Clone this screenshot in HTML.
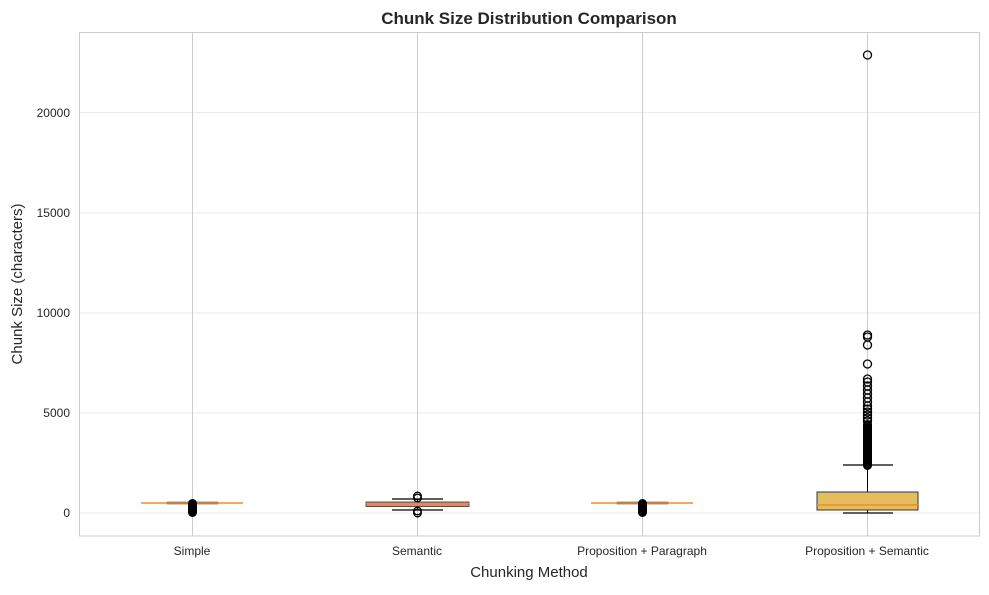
<!DOCTYPE html>
<html><head><style>body{margin:0;background:#fff}svg text{font-family:"Liberation Sans",Arial,sans-serif}</style></head><body>
<svg width="989" height="590" xmlns="http://www.w3.org/2000/svg">
<rect width="989" height="590" fill="#fff"/>
<g stroke="#ebebeb" stroke-width="1">
<line x1="80" x2="980" y1="513" y2="513"/><line x1="80" x2="980" y1="413" y2="413"/><line x1="80" x2="980" y1="313" y2="313"/><line x1="80" x2="980" y1="213" y2="213"/><line x1="80" x2="980" y1="112.5" y2="112.5"/>
</g>
<g stroke="#cccccc" stroke-width="1">
<line x1="192.5" x2="192.5" y1="32" y2="536"/><line x1="417.5" x2="417.5" y1="32" y2="536"/><line x1="642.5" x2="642.5" y1="32" y2="536"/><line x1="867.5" x2="867.5" y1="32" y2="536"/>
</g>
<rect x="79.5" y="32.5" width="900" height="503.5" fill="none" stroke="#cccccc"/>
<g font-size="12" fill="#262626" text-anchor="end">
<text x="70" y="517">0</text><text x="70" y="417">5000</text><text x="70" y="317">10000</text><text x="70" y="217">15000</text><text x="70" y="117">20000</text>
</g>
<g font-size="12" fill="#262626" text-anchor="middle">
<text x="192" y="555">Simple</text><text x="417" y="555">Semantic</text><text x="642" y="555">Proposition + Paragraph</text><text x="867" y="555">Proposition + Semantic</text>
</g>
<text x="529" y="577" font-size="15" fill="#262626" text-anchor="middle">Chunking Method</text>
<text transform="translate(22,284) rotate(-90)" font-size="15" fill="#262626" text-anchor="middle">Chunk Size (characters)</text>
<text x="529" y="24" font-size="17" font-weight="bold" fill="#262626" text-anchor="middle">Chunk Size Distribution Comparison</text>
<!-- Simple -->
<rect x="167" y="502" width="51" height="2" fill="#a07a5a" stroke="#333" stroke-width="0.5"/>
<line x1="141" x2="243" y1="503" y2="503" stroke="#f28a30" stroke-width="1.5"/>
<rect x="188" y="499" width="9" height="18" rx="4.5" fill="#000"/>
<!-- Semantic -->
<line x1="417.5" x2="417.5" y1="499" y2="510" stroke="#000"/>
<line x1="392" x2="443" y1="499" y2="499" stroke="#000" stroke-width="1.2"/>
<line x1="392" x2="443" y1="510" y2="510" stroke="#000" stroke-width="1.2"/>
<rect x="366" y="502" width="103" height="4.5" fill="#e8875f" stroke="#333" stroke-width="0.8"/>
<line x1="366" x2="469" y1="503.5" y2="503.5" stroke="#f28a30" stroke-width="1"/>
<g fill="none" stroke="#000" stroke-width="1.3">
<circle cx="417.5" cy="496" r="3.8"/><circle cx="417.5" cy="498" r="3.8"/><circle cx="417.5" cy="511" r="3.8"/><circle cx="417.5" cy="513" r="3.8"/>
</g>
<!-- Prop+Para -->
<rect x="617" y="502" width="51" height="2" fill="#a07a5a" stroke="#333" stroke-width="0.5"/>
<line x1="591" x2="693" y1="503" y2="503" stroke="#f28a30" stroke-width="1.5"/>
<rect x="638" y="499" width="9" height="18" rx="4.5" fill="#000"/>
<!-- Prop+Sem -->
<line x1="867.5" x2="867.5" y1="465" y2="513" stroke="#000"/>
<line x1="843" x2="893" y1="465" y2="465" stroke="#000" stroke-width="1.2"/>
<line x1="843" x2="893" y1="513" y2="513" stroke="#000" stroke-width="1.2"/>
<rect x="817" y="492" width="101" height="18" fill="#e4be5e" stroke="#333" stroke-width="1"/>
<line x1="817" x2="918" y1="505" y2="505" stroke="#f28a30" stroke-width="1.5"/>
<rect x="863" y="420" width="9" height="50" rx="4.5" fill="#000"/>
<g fill="none" stroke="#000" stroke-width="1.3">
<circle cx="867.5" cy="55" r="4"/><circle cx="867.5" cy="335" r="4"/><circle cx="867.5" cy="337" r="4"/><circle cx="867.5" cy="345" r="4"/><circle cx="867.5" cy="364" r="4"/><circle cx="867.5" cy="379" r="4"/><circle cx="867.5" cy="382" r="4"/><circle cx="867.5" cy="386" r="4"/><circle cx="867.5" cy="390" r="4"/><circle cx="867.5" cy="394" r="4"/><circle cx="867.5" cy="398" r="4"/><circle cx="867.5" cy="402" r="4"/><circle cx="867.5" cy="406" r="4"/><circle cx="867.5" cy="409" r="4"/><circle cx="867.5" cy="412" r="4"/><circle cx="867.5" cy="415" r="4"/><circle cx="867.5" cy="418" r="4"/><circle cx="867.5" cy="421" r="4"/>
</g>
</svg>
</body></html>
